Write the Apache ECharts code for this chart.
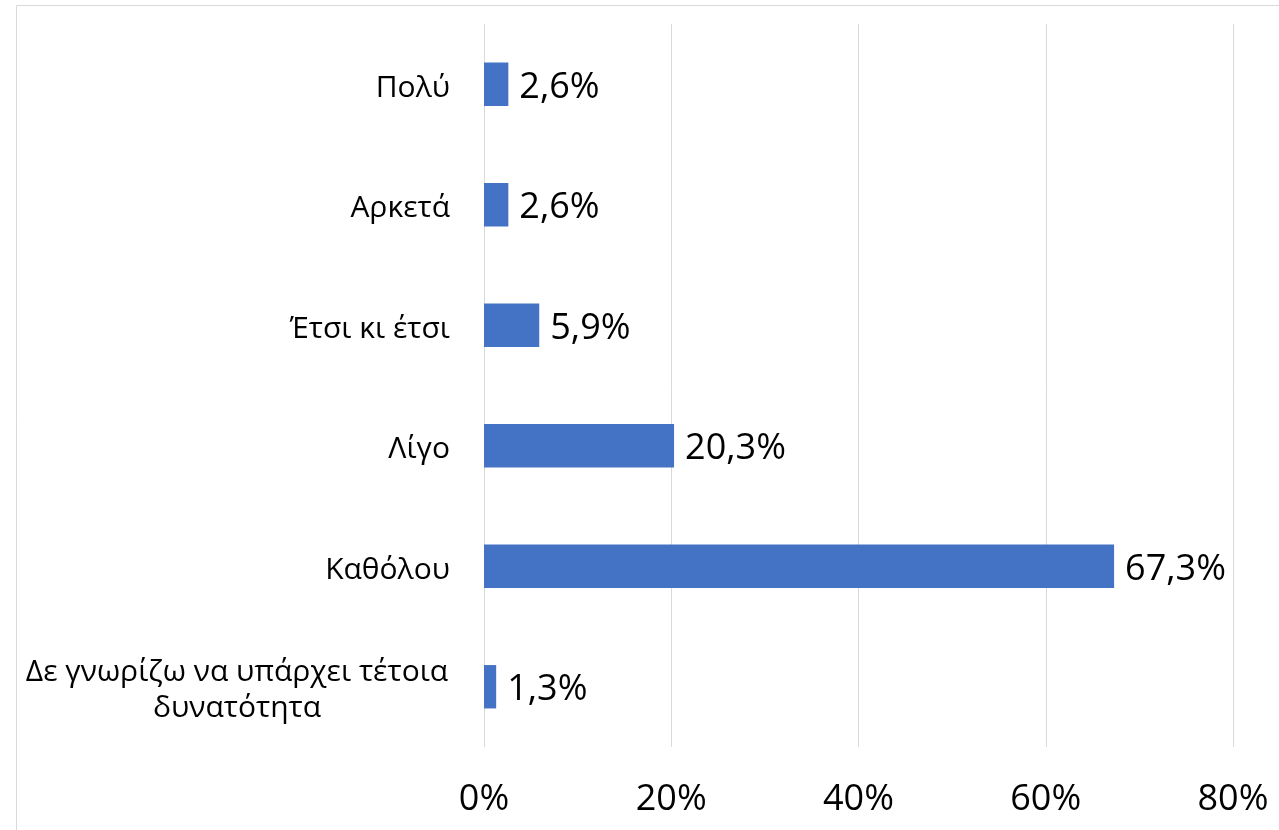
<!DOCTYPE html>
<html>
<head>
<meta charset="utf-8">
<script src="https://cdn.jsdelivr.net/npm/echarts@6/dist/echarts.min.js"></script>
<style>
    html, body {margin: 0; padding: 0; background: #fff;}
    #chart {width: 1279px; height: 830px;}
</style>
</head>
<body>
<div id="chart"></div>
<script>
// bottom to top, as the axis draws them
const categories = ['Δε γνωρίζω να υπάρχει τέτοια\nδυνατότητα', 'Καθόλου', 'Λίγο', 'Έτσι κι έτσι', 'Αρκετά', 'Πολύ'];
const values = [1.3, 67.3, 20.3, 5.9, 2.6, 2.6];
const xTicks = [0, 20, 40, 60, 80];

const font = '"Open Sans", "DejaVu Sans", sans-serif';
const chart = echarts.init(document.getElementById('chart'));

// wrapped labels are centred on each other, single ones hug the axis
const fmtCat = v => {
    if (v.indexOf('\n') < 0) return '{r|' + v + '}';
    return '{c|' + v.split('\n').join('}\n{c|') + '}';
};

chart.setOption({
    animation: false,
    graphic: [{
        type: 'rect',
        shape: {x: 16.5, y: 5.5, width: 1400, height: 900},
        style: {fill: 'none', stroke: '#d9d9d9', lineWidth: 1},
        silent: true
    }],
    grid: {left: 484, right: 46, top: 24, bottom: 83, containLabel: false},
    xAxis: {
        type: 'value',
        min: xTicks[0],
        max: xTicks[xTicks.length - 1],
        interval: 20,
        axisLine: {show: false},
        axisTick: {show: false},
        splitLine: {show: true, lineStyle: {color: '#d9d9d9', width: 1}},
        axisLabel: {
            margin: 35,
            color: '#000',
            fontSize: 36,
            fontFamily: font,
            formatter: v => v + '%'
        }
    },
    yAxis: {
        type: 'category',
        data: categories,
        axisLine: {show: false},
        axisTick: {show: false},
        axisLabel: {
            margin: 34,
            padding: [8, 0, 0, 0],
            color: '#000',
            fontSize: 30,
            fontFamily: font,
            formatter: fmtCat,
            rich: {
                r: {fontSize: 30, lineHeight: 36, fontFamily: font, color: '#000'},
                c: {width: 426, align: 'center', fontSize: 30, lineHeight: 36, fontFamily: font, color: '#000'}
            }
        }
    },
    series: [{
        type: 'bar',
        data: values,
        barCategoryGap: '64%',
        itemStyle: {color: '#4472c4'},
        label: {
            show: true,
            position: 'right',
            distance: 11,
            offset: [0, 3],
            color: '#000',
            fontSize: 36,
            fontFamily: font,
            formatter: p => p.value.toFixed(1).replace('.', ',') + '%'
        }
    }]
});
</script>
</body>
</html>
